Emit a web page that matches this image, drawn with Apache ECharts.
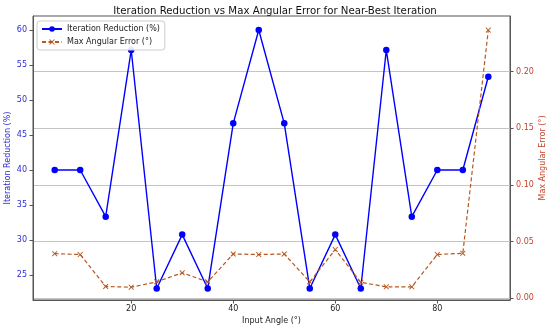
<!DOCTYPE html>
<html>
<head>
<meta charset="utf-8">
<script src="https://cdn.jsdelivr.net/npm/echarts@6/dist/echarts.min.js"></script>
<style>html,body{margin:0;padding:0;background:#fff}#c{width:550px;height:332px}</style>
</head>
<body>
<div id="c"></div>
<script>
const angles = [5,10,15,20,25,30,35,40,45,50,55,60,65,70,75,80,85,90];
const iterReduction = [40,40,33.33,57.14,23.08,30.77,23.08,46.67,60,46.67,23.08,30.77,23.08,57.14,33.33,40,40,53.33];
const maxAngErr = [0.0393,0.0385,0.0103,0.0097,0.0144,0.0224,0.0144,0.039,0.0385,0.039,0.0144,0.0429,0.014,0.010,0.010,0.0385,0.0396,0.2365];
const xTicks = [20,40,60,80];
const leftTicks = [25,30,35,40,45,50,55,60];
const rightTicks = [0,0.05,0.10,0.15,0.20];

const FONT = 'DejaVu Sans';
const BLUE = '#0000ff';
const LEFTTXT = '#2b2bd6';
const ORANGE = '#b5581f';
const RIGHTTXT = '#c0452e';
const xMark = 'path://M0,1.2L1.2,0L5,3.8L8.8,0L10,1.2L6.2,5L10,8.8L8.8,10L5,6.2L1.2,10L0,8.8L3.8,5Z';

const chart = echarts.init(document.getElementById('c'), null, {renderer:'canvas'});
chart.setOption({
  animation:false,
  backgroundColor:'#fff',
  title:{text:'Iteration Reduction vs Max Angular Error for Near-Best Iteration',left:'center',top:1,
    textStyle:{fontFamily:FONT,fontSize:10.2,fontWeight:'normal',color:'#111'}},
  grid:{left:33,right:40,top:16,bottom:32,outerBoundsMode:'none',containLabel:false,
    show:true,borderColor:'#555',borderWidth:1,backgroundColor:'transparent'},
  legend:{left:37,top:21,orient:'vertical',itemWidth:20,itemHeight:7,itemGap:5,padding:[4,5,4,4],
    backgroundColor:'rgba(255,255,255,0.9)',borderColor:'#ccc',borderWidth:1,borderRadius:3,
    textStyle:{fontFamily:FONT,fontSize:8,color:'#222'},
    data:[{name:'Iteration Reduction (%)'},{name:'Max Angular Error (°)'}]},
  xAxis:{type:'value',min:0.75,max:94.25,
    name:'Input Angle (°)',nameLocation:'middle',nameGap:17,nameMoveOverlap:false,
    nameTextStyle:{fontFamily:FONT,fontSize:8,color:'#222'},
    axisLine:{show:true,onZero:false,lineStyle:{color:'#555'}},
    axisTick:{show:true,length:3.5,customValues:xTicks,lineStyle:{color:'#555'}},
    axisLabel:{customValues:xTicks,margin:5,fontFamily:FONT,fontSize:8,color:'#222'},
    splitLine:{show:false}},
  yAxis:[
    {type:'value',min:21.43,max:62,position:'left',
     name:'Iteration Reduction (%)',nameLocation:'middle',nameGap:21,nameMoveOverlap:false,
     nameTextStyle:{fontFamily:FONT,fontSize:8,color:LEFTTXT},
     axisLine:{show:true,lineStyle:{color:'#555'}},
     axisTick:{show:true,length:3.5,customValues:leftTicks,lineStyle:{color:'#555'}},
     axisLabel:{customValues:leftTicks,margin:6,fontFamily:FONT,fontSize:8,color:LEFTTXT},
     splitLine:{show:false}},
    {type:'value',min:-0.0016,max:0.2489,position:'right',
     name:'Max Angular Error (°)',nameLocation:'middle',nameGap:29,nameRotate:90,nameMoveOverlap:false,
     nameTextStyle:{fontFamily:FONT,fontSize:8,color:RIGHTTXT},
     axisLine:{show:true,lineStyle:{color:'#555'}},
     axisTick:{show:true,length:3.5,customValues:rightTicks,lineStyle:{color:'#555'}},
     axisLabel:{customValues:rightTicks,margin:6,fontFamily:FONT,fontSize:8,color:RIGHTTXT,
       formatter:v=>v.toFixed(2)},
     splitLine:{show:true,customValues:rightTicks,lineStyle:{color:'#c4c4c4',width:1}}}
  ],
  series:[
    {name:'Iteration Reduction (%)',type:'line',yAxisIndex:0,
     data:angles.map((a,i)=>[a,iterReduction[i]]),
     symbol:'circle',symbolSize:6.5,showSymbol:true,
     lineStyle:{color:BLUE,width:1.4},itemStyle:{color:BLUE},z:2},
    {name:'Max Angular Error (°)',type:'line',yAxisIndex:1,
     data:angles.map((a,i)=>[a,maxAngErr[i]]),
     symbol:xMark,symbolSize:5.5,showSymbol:true,
     lineStyle:{color:ORANGE,width:1.2,type:[4,2.5]},itemStyle:{color:ORANGE},z:3}
  ]
});
</script>
</body>
</html>
